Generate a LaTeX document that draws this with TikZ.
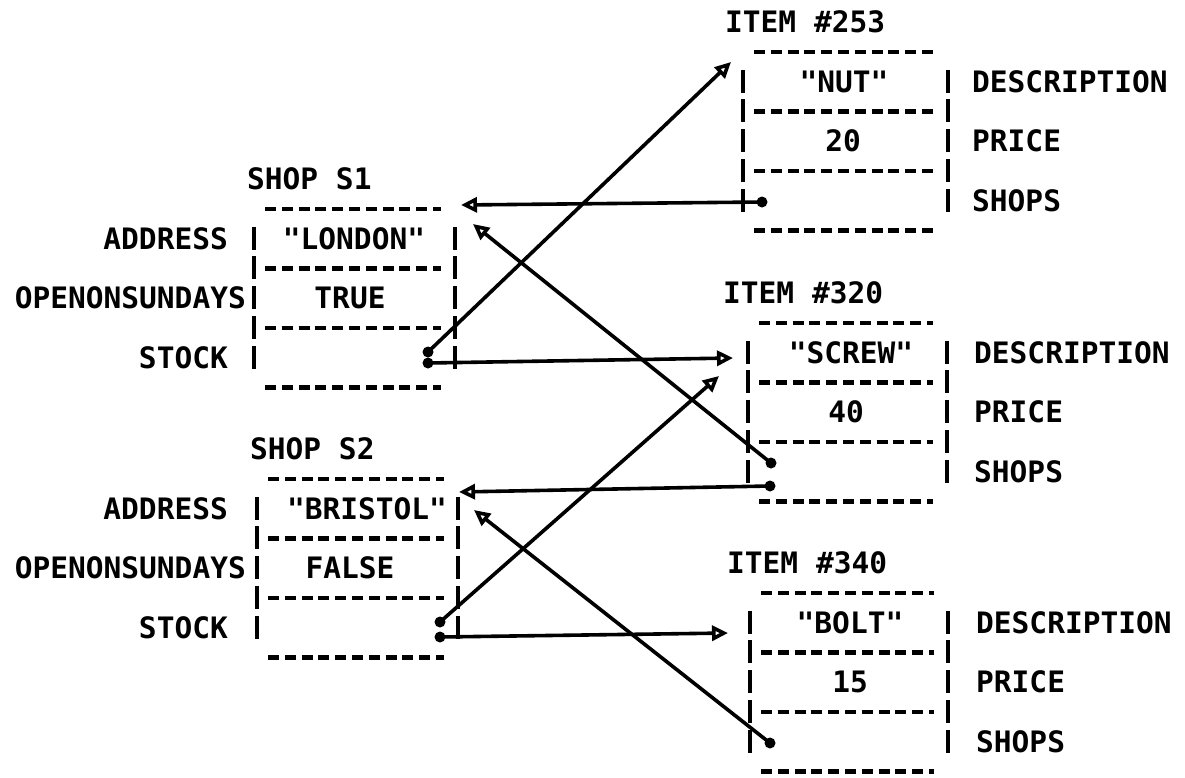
\documentclass[tikz,border=0pt]{standalone}
\usepackage{fontspec}
\setmonofont{DejaVu Sans Mono}
\usetikzlibrary{arrows.meta}
\tikzset{
  lp/.style={font=\ttfamily\bfseries\fontsize{29.5}{30}\selectfont, inner sep=0pt},
  hdash/.style={line width=4.6pt, dash pattern=on 11pt off 5.8pt},
  vdash/.style={line width=4.4pt, dash pattern=on 23pt off 6.8pt},
  ptr/.style={line width=3.6pt, -{Triangle[open, length=16pt, width=15pt, line width=3.6pt]}},
  dot/.style={circle, fill, inner sep=0pt, minimum size=11pt},
}
\newcommand\recframe[3]{%
  \foreach \k in {0,2,4,6}
    \draw[hdash] ({#1+11},{#3+\k*29.8}) -- ({#2-14},{#3+\k*29.8});
  \draw[vdash] (#1,{#3+29.8-12}) -- (#1,{#3+5*29.8+12});
  \draw[vdash] (#2,{#3+29.8-12}) -- (#2,{#3+5*29.8+12});
}
\begin{document}
\begin{tikzpicture}[x=1pt,y=-1pt]
\useasboundingbox[fill=white] (0,0) rectangle (1185,777);

% ---------- ITEM #253 ----------
\node[lp, anchor=west] (t253) at (725,22) {ITEM \#253};
\recframe{743}{948}{51.8}
\node[lp] (i253d) at (844,81.6) {"NUT"};
\node[lp] (i253p) at (843,141.2) {20};
\node[lp, anchor=west] (l253d) at (972,81.6) {DESCRIPTION};
\node[lp, anchor=west] (l253p) at (972,141.2) {PRICE};
\node[lp, anchor=west] (l253s) at (972,200.8) {SHOPS};

% ---------- SHOP S1 ----------
\node[lp, anchor=west] (ts1) at (247,179) {SHOP S1};
\recframe{254}{455}{208.8}
\node[lp] (s1a) at (354,238.6) {"LONDON"};
\node[lp] (s1o) at (350,298.2) {TRUE};
\node[lp, anchor=east] (ls1a) at (228,238.6) {ADDRESS};
\node[lp, anchor=east] (ls1o) at (246,298.2) {OPENONSUNDAYS};
\node[lp, anchor=east] (ls1s) at (228,357.8) {STOCK};

% ---------- ITEM #320 ----------
\node[lp, anchor=west] (t320) at (723,293) {ITEM \#320};
\recframe{748}{947}{322.8}
\node[lp] (i320d) at (851,352.6) {"SCREW"};
\node[lp] (i320p) at (846,412.2) {40};
\node[lp, anchor=west] (l320d) at (974,352.6) {DESCRIPTION};
\node[lp, anchor=west] (l320p) at (974,412.2) {PRICE};
\node[lp, anchor=west] (l320s) at (974,471.8) {SHOPS};

% ---------- SHOP S2 ----------
\node[lp, anchor=west] (ts2) at (250,449) {SHOP S2};
\recframe{257}{458}{478.8}
\node[lp] (s2a) at (367,508.6) {"BRISTOL"};
\node[lp] (s2o) at (350,568.2) {FALSE};
\node[lp, anchor=east] (ls2a) at (228,508.6) {ADDRESS};
\node[lp, anchor=east] (ls2o) at (246,568.2) {OPENONSUNDAYS};
\node[lp, anchor=east] (ls2s) at (228,627.8) {STOCK};

% ---------- ITEM #340 ----------
\node[lp, anchor=west] (t340) at (727,563) {ITEM \#340};
\recframe{750}{948}{592.8}
\node[lp] (i340d) at (850,622.6) {"BOLT"};
\node[lp] (i340p) at (850,682.2) {15};
\node[lp, anchor=west] (l340d) at (976,622.6) {DESCRIPTION};
\node[lp, anchor=west] (l340p) at (976,682.2) {PRICE};
\node[lp, anchor=west] (l340s) at (976,741.8) {SHOPS};

% ---------- pointer origins ----------
\node[dot] (a1) at (428,352) {};
\node[dot] (a2) at (428,363) {};
\node[dot] (b1) at (762,202) {};
\node[dot] (c1) at (771,463) {};
\node[dot] (c2) at (770,486) {};
\node[dot] (d1) at (440,622) {};
\node[dot] (d2) at (440,637) {};
\node[dot] (e1) at (770,743) {};

% ---------- pointer targets ----------
\coordinate (ta1) at (731,62);
\coordinate (ta2) at (733,358);
\coordinate (tb1) at (461,205);
\coordinate (tc1) at (473,224);
\coordinate (tc2) at (459,492);
\coordinate (td1) at (719,376);
\coordinate (td2) at (728,633);
\coordinate (te1) at (474,510);

% ---------- pointers ----------
\draw[ptr] (a1.center) -- (ta1);
\draw[ptr] (a2.center) -- (ta2);
\draw[ptr] (b1.center) -- (tb1);
\draw[ptr] (c1.center) -- (tc1);
\draw[ptr] (c2.center) -- (tc2);
\draw[ptr] (d1.center) -- (td1);
\draw[ptr] (d2.center) -- (td2);
\draw[ptr] (e1.center) -- (te1);
\end{tikzpicture}
\end{document}
